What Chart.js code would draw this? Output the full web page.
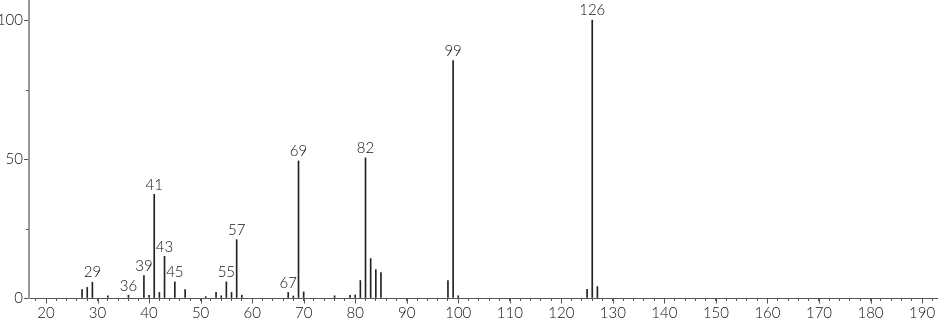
<!DOCTYPE html>
<html>
<head>
<meta charset="utf-8">
<script src="https://cdn.jsdelivr.net/npm/chart.js"></script>
<style>
  html, body { margin: 0; padding: 0; background: #fff; }
  #wrap { width: 940px; height: 320px; }
</style>
</head>
<body>
<div id="wrap"><canvas id="spectrum" width="940" height="320"></canvas></div>
<script>
// m/z values and relative intensities
const masses = [27, 28, 29, 32, 36, 39, 40, 41, 42, 43, 45, 47, 51, 53, 54, 55, 56, 57, 58,
  67, 68, 69, 70, 76, 79, 80, 81, 82, 83, 84, 85, 98, 99, 100, 125, 126, 127];
const intensities = [3, 3.8, 5.7, 0.8, 1, 8.1, 1, 37.3, 2, 15, 5.8, 3, 0.5, 2, 0.8, 5.8, 2, 21, 1,
  2, 0.7, 49.3, 2.2, 0.8, 1, 1.1, 6.3, 50.4, 14.2, 10.2, 9.1, 6.3, 85.4, 0.8, 3.1, 100, 4.1];
// peaks that carry a label
const labelledMasses = [29, 36, 39, 41, 43, 45, 55, 57, 67, 69, 82, 99, 126];
const yLabelTicks = [0, 50, 100];

const FONT = "Lato, sans-serif";

const points = masses.map((m, i) => ({ x: m, y: intensities[i] }));

// labels above the peaks, longer major ticks on x, short minor ticks on y
const peakLabels = {
  id: "peakLabels",
  afterDatasetsDraw(chart) {
    const ctx = chart.ctx;
    const x = chart.scales.x;
    const y = chart.scales.y;
    ctx.save();
    ctx.font = "300 15px " + FONT;
    ctx.fillStyle = "#111";
    ctx.textAlign = "center";
    ctx.textBaseline = "bottom";
    labelledMasses.forEach((m) => {
      const i = masses.indexOf(m);
      ctx.fillText(String(m), x.getPixelForValue(m), y.getPixelForValue(intensities[i]) - 2);
    });

    ctx.strokeStyle = "#555";
    ctx.lineWidth = 1;
    const base = Math.round(y.getPixelForValue(0)) + 0.5;
    for (let v = 20; v <= 190; v += 10) {
      const px = Math.round(x.getPixelForValue(v)) + 0.5;
      ctx.beginPath();
      ctx.moveTo(px, base);
      ctx.lineTo(px, base + 5);
      ctx.stroke();
    }
    [25, 75].forEach((v) => {
      const py = Math.round(y.getPixelForValue(v)) + 0.5;
      ctx.beginPath();
      ctx.moveTo(chart.chartArea.left - 3, py);
      ctx.lineTo(chart.chartArea.left, py);
      ctx.stroke();
    });
    ctx.restore();
  },
};

new Chart(document.getElementById("spectrum").getContext("2d"), {
  type: "bar",
  data: {
    datasets: [
      {
        data: points,
        backgroundColor: "#222",
        borderWidth: 0,
        barThickness: 1,
      },
    ],
  },
  options: {
    responsive: false,
    animation: false,
    layout: { padding: { top: 0, right: 3, left: 0, bottom: 0 } },
    plugins: { legend: { display: false }, tooltip: { enabled: false } },
    scales: {
      x: {
        type: "linear",
        offset: false,
        min: 16.7,
        max: 192.9,
        afterFit(scale) {
          scale.height = 22;
          scale.paddingLeft = 0;
          scale.paddingRight = 0;
        },
        border: { color: "#555", width: 1 },
        grid: { drawOnChartArea: false, offset: false, tickLength: 3, tickColor: "#555" },
        ticks: {
          stepSize: 2,
          includeBounds: false,
          autoSkip: false,
          maxRotation: 0,
          padding: 3,
          color: "#111",
          font: { family: FONT, size: 15, weight: "300" },
          callback: (v) => (v % 10 === 0 ? String(v) : ""),
        },
      },
      y: {
        min: 0,
        max: 107.2,
        afterFit(scale) {
          scale.width = 29;
          scale.paddingTop = 0;
          scale.paddingBottom = 0;
        },
        border: { color: "#999", width: 2 },
        grid: {
          drawOnChartArea: false,
          tickLength: 5,
          tickColor: (c) => (c.tick && yLabelTicks.includes(c.tick.value) ? "#555" : "rgba(0,0,0,0)"),
        },
        ticks: {
          stepSize: 25,
          includeBounds: false,
          padding: 1,
          color: "#111",
          font: { family: FONT, size: 15, weight: "300" },
          callback: (v) => (yLabelTicks.includes(v) ? String(v) : ""),
        },
      },
    },
  },
  plugins: [peakLabels],
});
</script>
</body>
</html>
